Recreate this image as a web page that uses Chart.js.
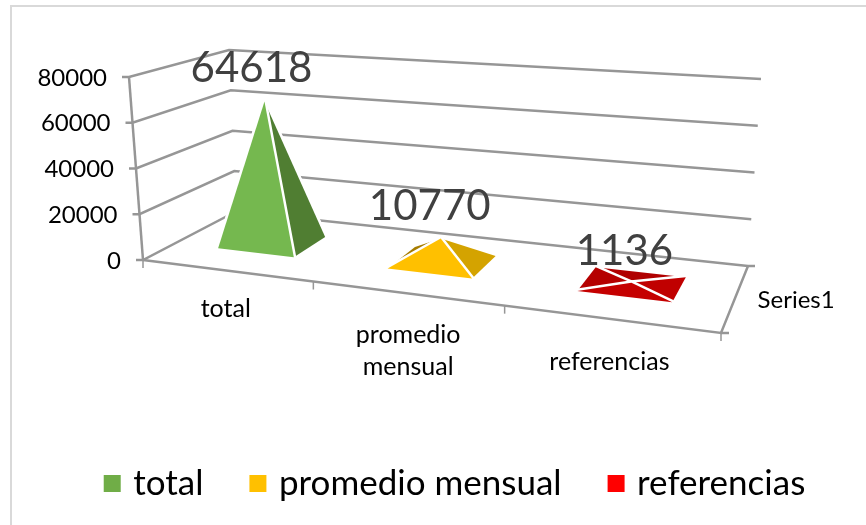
<!DOCTYPE html>
<html lang="es">
<head>
  <meta charset="UTF-8">
  <title>total, promedio mensual, referencias</title>
  <script src="https://cdn.jsdelivr.net/npm/chart.js"></script>
  <style>
    body { margin: 0; background: #fff; overflow: hidden; }
    #wrap { position: relative; width: 866px; height: 525px; overflow: hidden; }
    #frame { position: absolute; left: 10px; top: 5px; width: 900px; height: 600px; border: 2px solid #d9d9d9; }
    #chart { position: absolute; left: 0; top: 0; }
  </style>
</head>
<body>
  <div id="wrap">
    <div id="frame"></div>
    <canvas id="chart" width="866" height="525"></canvas>
  </div>

  <script>
    const categories = ['total', 'promedio mensual', 'referencias'];
    const values = [64618, 10770, 1136];
    const seriesName = 'Series1';
    const yMax = 80000;
    const yStep = 20000;
    const legendColors = ['#70ad47', '#ffc000', '#ff0000'];

    // front, right, left, back
    const faceColors = [
      ['#75b84f', '#507e32', '#507e32', '#507e32'],
      ['#ffc000', '#d4a300', '#a67c00', '#a67c00'],
      ['#c50000', '#c00000', '#b50000', '#b00000']
    ];
    const gridColor = '#969696';

    // the box of the chart as seen by the camera: front-left, front-right, back-right, back-left
    const floorQuad = [[143, 260], [721, 333], [748, 266], [236, 211.5]];
    const topQuad = [[129, 77], [729, 116], [761, 79], [229, 50]];
    const depthNear = 0.32, depthFar = 0.71, depthApex = 0.49;

    // text nudges, in px, from where the marks end up
    const valueNudge = [[-13, -33], [-11, -32], [-7, -31]];
    const categoryNudge = [[0, 38], [2, 42], [0, 43]];

    function homography(q) {
      const [[x0, y0], [x1, y1], [x2, y2], [x3, y3]] = q;
      const sx = x0 - x1 + x2 - x3, sy = y0 - y1 + y2 - y3;
      const dx1 = x1 - x2, dx2 = x3 - x2, dy1 = y1 - y2, dy2 = y3 - y2;
      const den = dx1 * dy2 - dx2 * dy1;
      const g = (sx * dy2 - dx2 * sy) / den;
      const h = (dx1 * sy - sx * dy1) / den;
      const a = x1 - x0 + g * x1, b = x3 - x0 + h * x3;
      const d = y1 - y0 + g * y1, e = y3 - y0 + h * y3;
      return (u, v) => {
        const w = g * u + h * v + 1;
        return [(a * u + b * v + x0) / w, (d * u + e * v + y0) / w];
      };
    }
    const floorAt = homography(floorQuad);
    const topAt = homography(topQuad);

    // u along the categories, v into the depth, t up the value axis (all 0..1)
    function project(u, v, t) {
      const f = floorAt(u, v), c = topAt(u, v);
      return [f[0] + (c[0] - f[0]) * t, f[1] + (c[1] - f[1]) * t];
    }

    function polyline(ctx, pts) {
      ctx.beginPath();
      pts.forEach((p, i) => i ? ctx.lineTo(p[0], p[1]) : ctx.moveTo(p[0], p[1]));
    }

    const box3d = {
      id: 'box3d',
      afterLayout(chart) {
        // Excel puts the legend a bit right of the middle
        chart.legend.left += 24;
        chart.legend.right += 24;
        chart.legend.top -= 14;
        chart.legend.bottom -= 14;
      },
      beforeDatasetsDraw(chart) {
        const ctx = chart.ctx, y = chart.scales.y, x = chart.scales.x;
        const tOf = v => (y.bottom - y.getPixelForValue(v)) / y.height;
        ctx.save();
        ctx.strokeStyle = gridColor;
        ctx.lineWidth = 2.5;

        // walls and value ticks
        ctx.fillStyle = '#000';
        ctx.font = '24px Lato';
        ctx.textAlign = 'right';
        ctx.textBaseline = 'middle';
        y.ticks.forEach(tick => {
          const t = tOf(tick.value);
          const a = project(0, 0, t);
          polyline(ctx, [[a[0] - 7, a[1]], a, project(0, 1, t), project(1, 1, t)]);
          ctx.stroke();
          ctx.fillText(String(tick.value), a[0] - 22, a[1] + 1);
        });
        polyline(ctx, [project(0, 0, 0), project(0, 0, 1)]);
        ctx.stroke();

        // floor edges
        polyline(ctx, [project(0, 0, 0), project(1, 0, 0), project(1, 1, 0)]);
        ctx.stroke();
        const fr = project(1, 0, 0), br = project(1, 1, 0);
        polyline(ctx, [fr, [fr[0] + 8, fr[1]]]);
        ctx.stroke();
        polyline(ctx, [br, [br[0] + 7, br[1]]]);
        ctx.stroke();

        // category ticks and labels
        const n = categories.length;
        ctx.lineWidth = 1.5;
        for (let i = 0; i <= n; i++) {
          const p = project(i / n, 0, 0);
          polyline(ctx, [p, [p[0], p[1] + 8]]);
          ctx.stroke();
        }
        ctx.textAlign = 'center';
        ctx.font = '25px Lato';
        categories.forEach((name, i) => {
          const u = (x.getPixelForValue(i) - x.left) / x.width;
          const p = project(u, 0, 0);
          const lines = name.split(' ');
          lines.forEach((line, k) => {
            ctx.fillText(line, p[0] + categoryNudge[i][0], p[1] + categoryNudge[i][1] + k * 32);
          });
        });

        // series axis label
        ctx.textAlign = 'left';
        ctx.font = '24px Lato';
        const mid = project(1, 0.5, 0);
        ctx.fillText(seriesName, mid[0] + 22, mid[1] + 3);
        ctx.restore();
      },
      afterDatasetsDraw(chart) {
        const ctx = chart.ctx, x = chart.scales.x, y = chart.scales.y;
        const meta = chart.getDatasetMeta(0);
        ctx.save();
        ctx.lineJoin = 'round';
        meta.data.forEach((bar, i) => {
          const u0 = (bar.x - bar.width / 2 - x.left) / x.width;
          const u1 = (bar.x + bar.width / 2 - x.left) / x.width;
          const t = (y.bottom - bar.y) / y.height;
          const apex = project((u0 + u1) / 2, depthApex, t);
          const fl = project(u0, depthNear, 0), frt = project(u1, depthNear, 0);
          const brt = project(u1, depthFar, 0), bl = project(u0, depthFar, 0);
          const [front, right, left, back] = faceColors[i];
          // back to front, each with a white halo, which also gives the seams
          const faces = [[bl, brt, back], [fl, bl, left], [frt, brt, right], [fl, frt, front]];
          faces.forEach(([a, b, color]) => {
            polyline(ctx, [a, b, apex]);
            ctx.closePath();
            ctx.strokeStyle = '#fff';
            ctx.lineWidth = 5;
            ctx.stroke();
            ctx.fillStyle = color;
            ctx.fill();
          });
        });

        ctx.fillStyle = '#404040';
        ctx.font = '42px Lato';
        ctx.textAlign = 'center';
        ctx.textBaseline = 'middle';
        meta.data.forEach((bar, i) => {
          const u = (bar.x - x.left) / x.width;
          const t = (y.bottom - bar.y) / y.height;
          const apex = project(u, depthApex, t);
          ctx.fillText(String(values[i]), apex[0] + valueNudge[i][0], apex[1] + valueNudge[i][1]);
        });
        ctx.restore();
      }
    };

    new Chart(document.getElementById('chart'), {
      type: 'bar',
      data: {
        labels: categories,
        datasets: [{
          label: seriesName,
          data: values,
          backgroundColor: 'transparent',
          categoryPercentage: 1,
          barPercentage: 0.46
        }]
      },
      options: {
        responsive: false,
        animation: false,
        scales: {
          x: { display: false },
          y: { display: false, min: 0, max: yMax, ticks: { stepSize: yStep } }
        },
        plugins: {
          tooltip: { enabled: false },
          legend: {
            position: 'bottom',
            labels: {
              font: { family: 'Lato', size: 35 },
              color: '#595959',
              padding: 51,
              boxWidth: 7,
              boxHeight: 7,
              generateLabels: () => categories.map((name, i) => ({
                text: name,
                fillStyle: legendColors[i],
                strokeStyle: legendColors[i],
                lineWidth: 10,
                index: i
              }))
            }
          }
        }
      },
      plugins: [box3d]
    });
  </script>
</body>
</html>
